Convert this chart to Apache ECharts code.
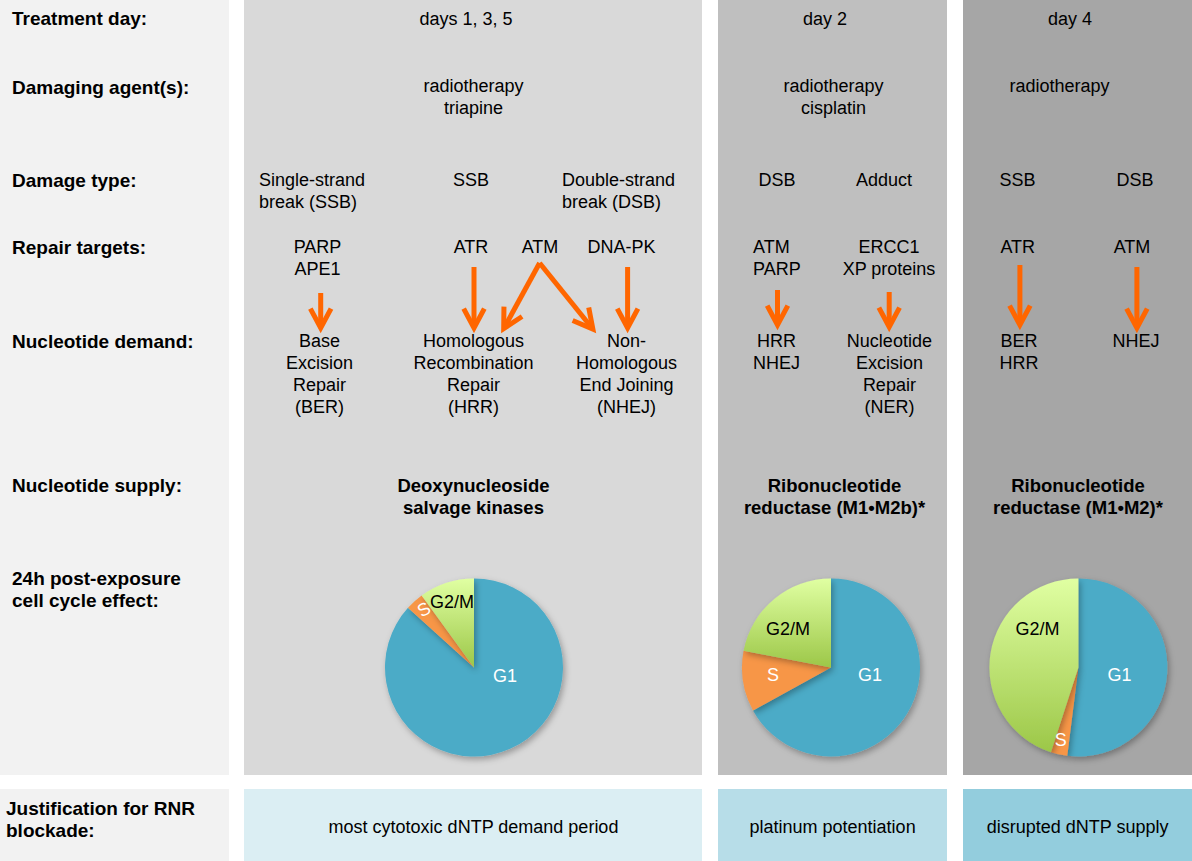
<!DOCTYPE html>
<html>
<head>
<meta charset="utf-8">
<title>RNR blockade schedule</title>
<script src="https://cdn.jsdelivr.net/npm/echarts@6/dist/echarts.min.js"></script>
<style>
  html, body { margin: 0; padding: 0; background: #fff; }
  #chart { width: 1192px; height: 861px; }
</style>
</head>
<body>
<div id="chart"></div>
<script>
// cell cycle phases and their share (%) 24h after exposure
const phases = ['G1', 'S', 'G2/M']
const cycleDays135 = [86.7, 3.3, 10]
const cycleDay2 = [67, 11, 22]
const cycleDay4 = [52, 3, 45]

const treatmentDays = ['days 1, 3, 5', 'day 2', 'day 4']
const rowLabels = [
    'Treatment day:',
    'Damaging agent(s):',
    'Damage type:',
    'Repair targets:',
    'Nucleotide demand:',
    'Nucleotide supply:',
    '24h post-exposure\ncell cycle effect:',
]
const justifications = ['most cytotoxic dNTP demand period', 'platinum potentiation', 'disrupted dNTP supply']

// repair target -> repair pathway arrows [x1, y1, x2, y2] in page pixels
const arrows = [
    [320.7, 293, 320.7, 333],
    [474, 267, 474, 333],
    [539.6, 263, 501.3, 333],
    [539.6, 263, 596, 333],
    [627.6, 267, 627.6, 333],
    [777.5, 290, 777.5, 330],
    [889.2, 292, 889.2, 332],
    [1019.9, 265, 1019.9, 330],
    [1136.9, 267, 1136.9, 333],
]

const FONT = '"Liberation Sans", Arial, Helvetica, sans-serif'
const ORANGE = '#ff6600'
const LH = 22

// text helper: y is the centre of the first line
const txt = (x, y, text, opt = {}) => ({
    type: 'text',
    z: 10,
    style: {
        x: x,
        y: y - LH / 2,
        text: text,
        fill: '#000',
        fontSize: opt.size || 18,
        fontFamily: FONT,
        fontWeight: opt.bold ? 'bold' : 'normal',
        align: opt.align || 'center',
        verticalAlign: 'top',
        lineHeight: LH,
    },
})
const rect = (x, y, w, h, color) => ({
    type: 'rect',
    z: 0,
    shape: { x: x, y: y, width: w, height: h },
    style: { fill: color },
})

const panels = [
    { x: 244, w: 458, bg: '#d9d9d9', foot: '#dbeef3', cx: 474 },
    { x: 718, w: 229, bg: '#bfbfbf', foot: '#b7dde8', cx: 831 },
    { x: 963, w: 229, bg: '#a6a6a6', foot: '#93cddd', cx: 1078.4 },
]
const rowY = [18.5, 87, 180, 247, 341, 485, 578]

let graphics = [
    rect(0, 0, 229, 775, '#f2f2f2'),
    rect(0, 789, 229, 72, '#f2f2f2'),
]
panels.forEach((p) => {
    graphics.push(rect(p.x, 0, p.w, 775, p.bg))
    graphics.push(rect(p.x, 789, p.w, 72, p.foot))
})
rowLabels.forEach((t, i) => graphics.push(txt(12, rowY[i], t, { align: 'left', bold: true, size: 19 })))
graphics.push(txt(6, 808, 'Justification for RNR\nblockade:', { align: 'left', bold: true, size: 19 }))

// column headings
const dayX = [466, 825, 1070]
treatmentDays.forEach((d, i) => graphics.push(txt(dayX[i], rowY[0], d)))
justifications.forEach((j, i) => graphics.push(txt([473.5, 832.6, 1077.6][i], 827, j)))

graphics = graphics.concat([
    // damaging agents
    txt(473.6, 86, 'radiotherapy\ntriapine'),
    txt(833.6, 86, 'radiotherapy\ncisplatin'),
    txt(1059.5, 86, 'radiotherapy'),
    // damage type
    txt(259, 180, 'Single-strand\nbreak (SSB)', { align: 'left' }),
    txt(471, 180, 'SSB'),
    txt(562, 180, 'Double-strand\nbreak (DSB)', { align: 'left' }),
    txt(777, 180, 'DSB'),
    txt(884, 180, 'Adduct'),
    txt(1017.4, 180, 'SSB'),
    txt(1135, 180, 'DSB'),
    // repair targets
    txt(317.5, 247, 'PARP\nAPE1'),
    txt(471, 247, 'ATR'),
    txt(540, 247, 'ATM'),
    txt(621.5, 247, 'DNA-PK'),
    txt(753, 247, 'ATM\nPARP', { align: 'left' }),
    txt(889, 247, 'ERCC1\nXP proteins'),
    txt(1017.8, 247, 'ATR'),
    txt(1132, 247, 'ATM'),
    // nucleotide demand
    txt(319.5, 341, 'Base\nExcision\nRepair\n(BER)'),
    txt(473.5, 341, 'Homologous\nRecombination\nRepair\n(HRR)'),
    txt(626.5, 341, 'Non-\nHomologous\nEnd Joining\n(NHEJ)'),
    txt(776.5, 341, 'HRR\nNHEJ'),
    txt(889.4, 341, 'Nucleotide\nExcision\nRepair\n(NER)'),
    txt(1019, 341, 'BER\nHRR'),
    txt(1136, 341, 'NHEJ'),
    // nucleotide supply
    txt(473.5, 485, 'Deoxynucleoside\nsalvage kinases', { bold: true, size: 18.5 }),
    txt(834.5, 485, 'Ribonucleotide\nreductase (M1•M2b)*', { bold: true, size: 18.5 }),
    txt(1078, 485, 'Ribonucleotide\nreductase (M1•M2)*', { bold: true, size: 18.5 }),
])

const phaseColors = [
    '#4babc7',
    '#f79646',
    new echarts.graphic.LinearGradient(0, 0, 0, 1, [
        { offset: 0, color: '#e0ffa2' },
        { offset: 1, color: '#9cc748' },
    ]),
]
const labelColors = ['#fff', '#fff', '#000']

// label offsets from pie centre, per phase
const labelOffsets = [
    [[31, 8], [-50, -58], [-22, -66]],
    [[39, 7], [-58, 7], [-43, -39]],
    [[41, 7], [-17.6, 72], [-41, -39]],
]

const PIE_Y = 667.5
const PIE_R = 89

const makePie = (values, idx) => {
    const cx = panels[idx].cx
    return {
        type: 'pie',
        center: [cx, PIE_Y],
        radius: PIE_R,
        startAngle: 90,
        clockwise: true,
        avoidLabelOverlap: false,
        silent: true,
        z: 3,
        itemStyle: {
            shadowBlur: 6,
            shadowOffsetX: 2,
            shadowOffsetY: 3,
            shadowColor: 'rgba(0,0,0,0.3)',
        },
        label: {
            show: true,
            position: 'inside',
            fontSize: 18,
            fontFamily: FONT,
        },
        labelLine: { show: false },
        labelLayout: (params) => {
            const o = labelOffsets[idx][params.dataIndex]
            return {
                x: cx + o[0],
                y: PIE_Y + o[1],
                align: 'center',
                verticalAlign: 'middle',
                rotate: idx === 0 && params.dataIndex === 1 ? 30 : 0,
            }
        },
        data: phases.map((name, i) => ({
            name: name,
            value: values[i],
            itemStyle: { color: phaseColors[i] },
            label: { color: labelColors[i], formatter: '{b}' },
        })),
    }
}

const option = {
    animation: false,
    backgroundColor: '#fff',
    graphic: graphics,
    // invisible pixel grid, so the arrows go through the library's axes
    grid: { left: 0, right: 0, top: 0, bottom: 0 },
    xAxis: { type: 'value', min: 0, max: 1192, show: false },
    yAxis: { type: 'value', min: 0, max: 861, inverse: true, show: false },
    series: [
        {
            type: 'custom',
            coordinateSystem: 'cartesian2d',
            silent: true,
            z: 4,
            encode: { x: [0, 2], y: [1, 3] },
            data: arrows,
            renderItem: (params, api) => {
                const p1 = api.coord([api.value(0), api.value(1)])
                const p2 = api.coord([api.value(2), api.value(3)])
                const dx = p2[0] - p1[0]
                const dy = p2[1] - p1[1]
                const len = Math.hypot(dx, dy)
                const ux = dx / len
                const uy = dy / len
                // pull the tip back so the mitred point lands on p2
                const tip = [p2[0] - ux * 5, p2[1] - uy * 5]
                const head = 22
                const a = 28 * Math.PI / 180
                const bx = -ux, by = -uy
                const arm1 = [tip[0] + head * (bx * Math.cos(a) - by * Math.sin(a)), tip[1] + head * (bx * Math.sin(a) + by * Math.cos(a))]
                const arm2 = [tip[0] + head * (bx * Math.cos(a) + by * Math.sin(a)), tip[1] + head * (-bx * Math.sin(a) + by * Math.cos(a))]
                return {
                    type: 'group',
                    children: [
                        {
                            type: 'line',
                            shape: { x1: p1[0], y1: p1[1], x2: tip[0] - ux * 2, y2: tip[1] - uy * 2 },
                            style: { stroke: ORANGE, lineWidth: 5, lineCap: 'butt' },
                        },
                        {
                            type: 'polyline',
                            shape: { points: [arm1, tip, arm2] },
                            style: { stroke: ORANGE, lineWidth: 5, fill: null, lineJoin: 'miter' },
                        },
                    ],
                }
            },
        },
        makePie(cycleDays135, 0),
        makePie(cycleDay2, 1),
        makePie(cycleDay4, 2),
    ],
}

const chart = echarts.init(document.getElementById('chart'), null, { renderer: 'svg' })
chart.setOption(option)
</script>
</body>
</html>
